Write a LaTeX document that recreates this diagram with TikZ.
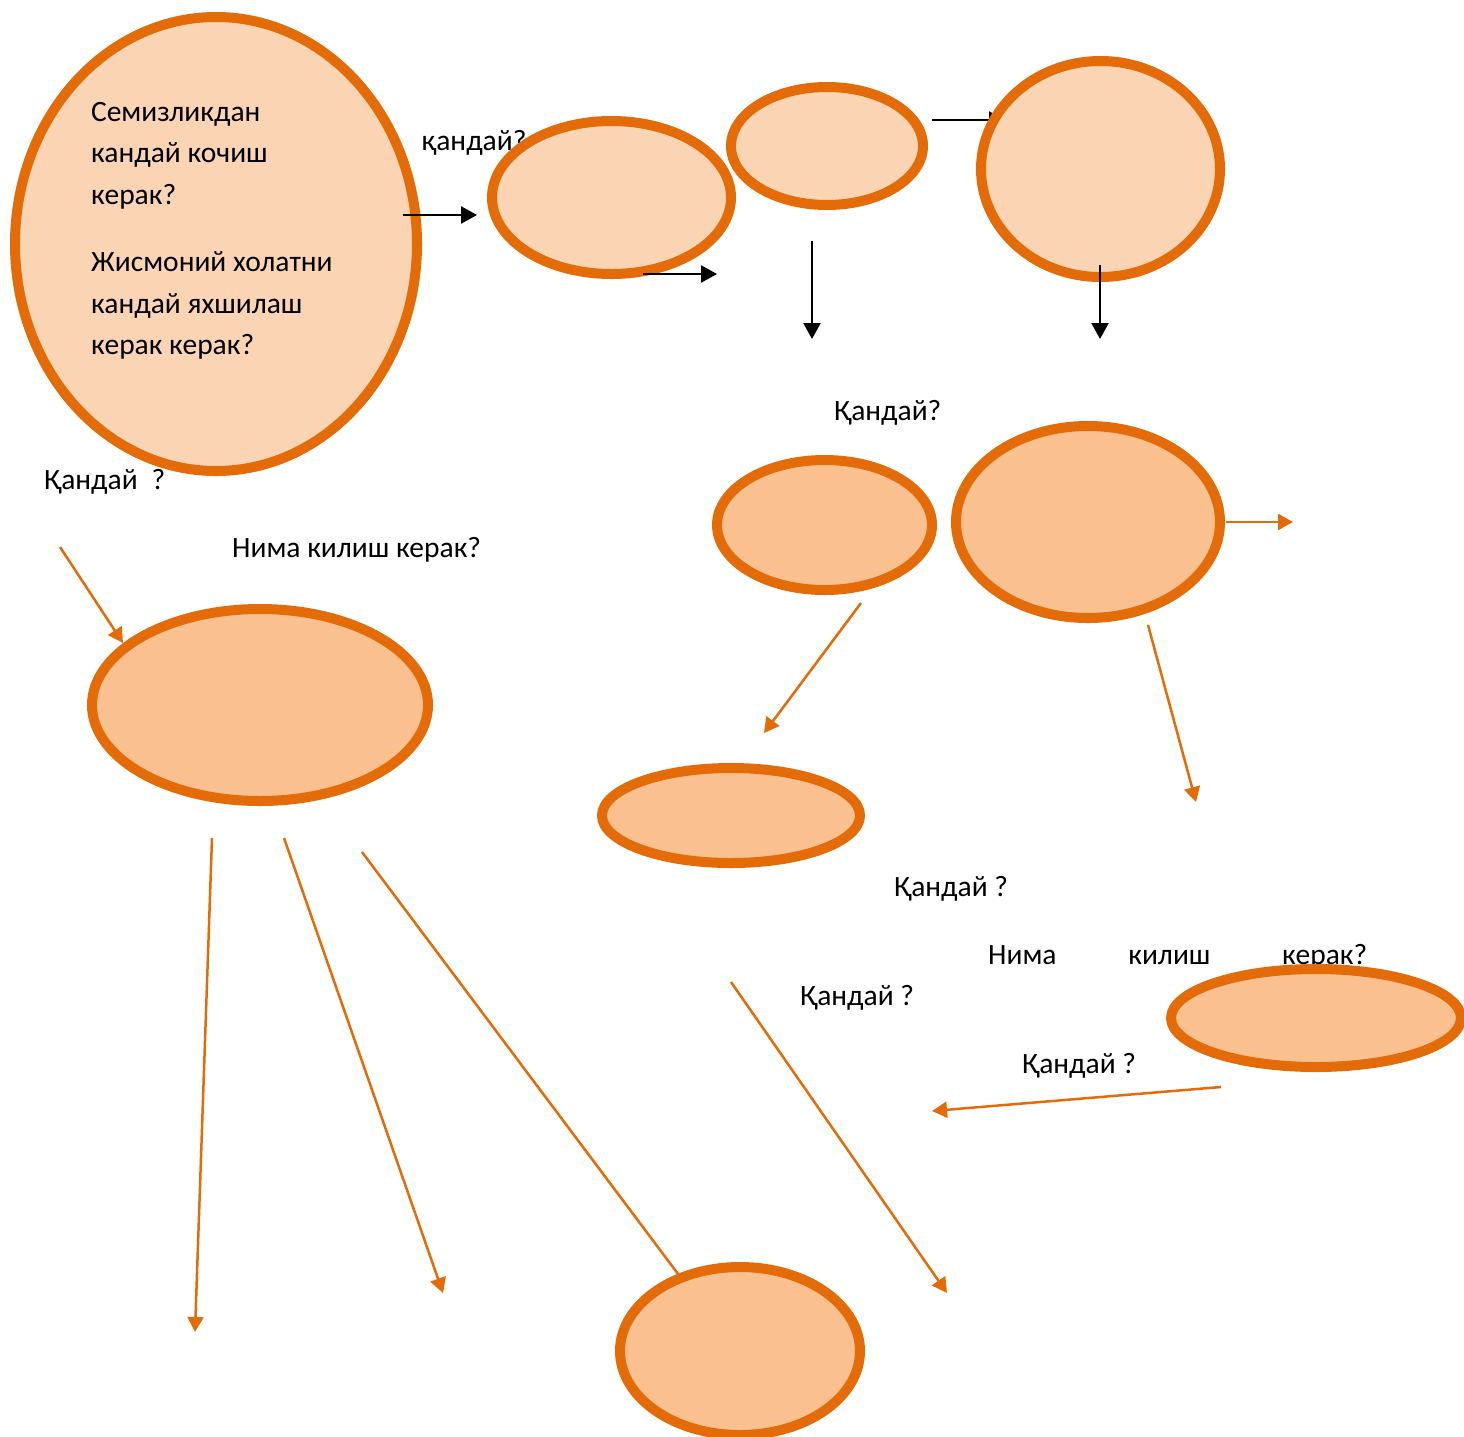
\documentclass[tikz,border=0pt]{standalone}
\usepackage{fontspec}
\setmainfont{Carlito}
\usetikzlibrary{shapes.geometric,arrows.meta}
\definecolor{ostroke}{HTML}{E36C09}
\definecolor{lightfill}{HTML}{FBD4B4}
\definecolor{darkfill}{HTML}{FAC090}
\tikzset{
  oval/.style={ellipse,draw=ostroke,line width=10pt,inner sep=0pt},
  topoval/.style={oval,fill=lightfill},
  lowoval/.style={oval,fill=darkfill},
  blackarrow/.style={line width=2.5pt,-{Triangle[length=16pt,width=17pt]}},
  orangearrow/.style={draw=ostroke,line width=2.5pt,-{Triangle[length=15pt,width=16pt]},color=ostroke},
  lbl/.style={anchor=base west,inner sep=0pt,font=\fontsize{29.5}{41}\selectfont},
}
\begin{document}
\begin{tikzpicture}[x=1pt,y=-1pt]
\useasboundingbox[fill=white] (0,0) rectangle (1464,1436);
% label under second oval
\node[lbl] (t1) at (422,150) {қандай?};
% top row
\node[topoval,minimum width=402pt,minimum height=454pt] (e1) at (216,244) {};
\node[lbl] (tx1) at (91,121) {Семизликдан};
\node[lbl] (tx2) at (91,162) {кандай кочиш};
\node[lbl] (tx3) at (91,204) {керак?};
\node[lbl] (tx4) at (91,271) {Жисмоний холатни};
\node[lbl] (tx5) at (91,313) {кандай яхшилаш};
\node[lbl] (tx6) at (91,354) {керак керак?};
\node[topoval,minimum width=239pt,minimum height=153pt] (e2) at (611.5,197.5) {};
\node[topoval,minimum width=192pt,minimum height=118pt] (e3) at (827,146) {};
\coordinate (a3s) at (932,120); \coordinate (a3e) at (1005,120);
\draw[blackarrow] (a3s) -- (a3e);
\node[topoval,minimum width=239pt,minimum height=216pt] (e4) at (1100.5,169) {};
\coordinate (a1s) at (403,215); \coordinate (a1e) at (477,215);
\draw[blackarrow] (a1s) -- (a1e);
\coordinate (a2s) at (643,274); \coordinate (a2e) at (717,274);
\draw[blackarrow] (a2s) -- (a2e);
\coordinate (a4s) at (812,241); \coordinate (a4e) at (812,339);
\draw[blackarrow] (a4s) -- (a4e);
\coordinate (a5s) at (1100,265); \coordinate (a5e) at (1100,339);
\draw[blackarrow] (a5s) -- (a5e);
% labels
\node[lbl] (t2) at (834,420) {Қандай?};
\node[lbl] (t3) at (44,489) {Қандай\hspace{14pt}?};
\node[lbl] (t4) at (232,557) {Нима килиш керак?};
\node[lbl] (t5) at (894,896) {Қандай ?};
\node[lbl,anchor=base west] (t6) at (988,964) {\makebox[379pt][l]{Нима\hfill килиш\hfill керак?}};
\node[lbl] (t7) at (800,1005) {Қандай ?};
\node[lbl] (t8) at (1022,1073) {Қандай ?};
% lower ovals
\node[lowoval,minimum width=215pt,minimum height=130pt] (e5) at (824.5,525) {};
\node[lowoval,minimum width=264pt,minimum height=192pt] (e6) at (1088,522) {};
\node[lowoval,minimum width=336pt,minimum height=192pt] (e7) at (260,705) {};
\node[lowoval,minimum width=258pt,minimum height=95pt] (e8) at (731,815.5) {};
\node[lowoval,minimum width=290pt,minimum height=98pt] (e9) at (1316,1018) {};
\coordinate (b7s) at (362,852); \coordinate (b7e) at (690,1290);
\draw[orangearrow] (b7s) -- (b7e);
\node[lowoval,minimum width=240pt,minimum height=168pt] (e10) at (740,1351) {};
% orange arrows
\coordinate (b1s) at (60,547); \coordinate (b1e) at (123,643);
\draw[orangearrow] (b1s) -- (b1e);
\coordinate (b2s) at (861,603); \coordinate (b2e) at (764,733);
\draw[orangearrow] (b2s) -- (b2e);
\coordinate (b3s) at (1148,625); \coordinate (b3e) at (1196,802);
\draw[orangearrow] (b3s) -- (b3e);
\coordinate (b4s) at (1226,522); \coordinate (b4e) at (1293,522);
\draw[orangearrow] (b4s) -- (b4e);
\coordinate (b5s) at (212,838); \coordinate (b5e) at (195,1332);
\draw[orangearrow] (b5s) -- (b5e);
\coordinate (b6s) at (284,838); \coordinate (b6e) at (443,1293);
\draw[orangearrow] (b6s) -- (b6e);
\coordinate (b8s) at (731,982); \coordinate (b8e) at (947,1293);
\draw[orangearrow] (b8s) -- (b8e);
\coordinate (b9s) at (1221,1087); \coordinate (b9e) at (932,1111);
\draw[orangearrow] (b9s) -- (b9e);
\end{tikzpicture}
\end{document}
